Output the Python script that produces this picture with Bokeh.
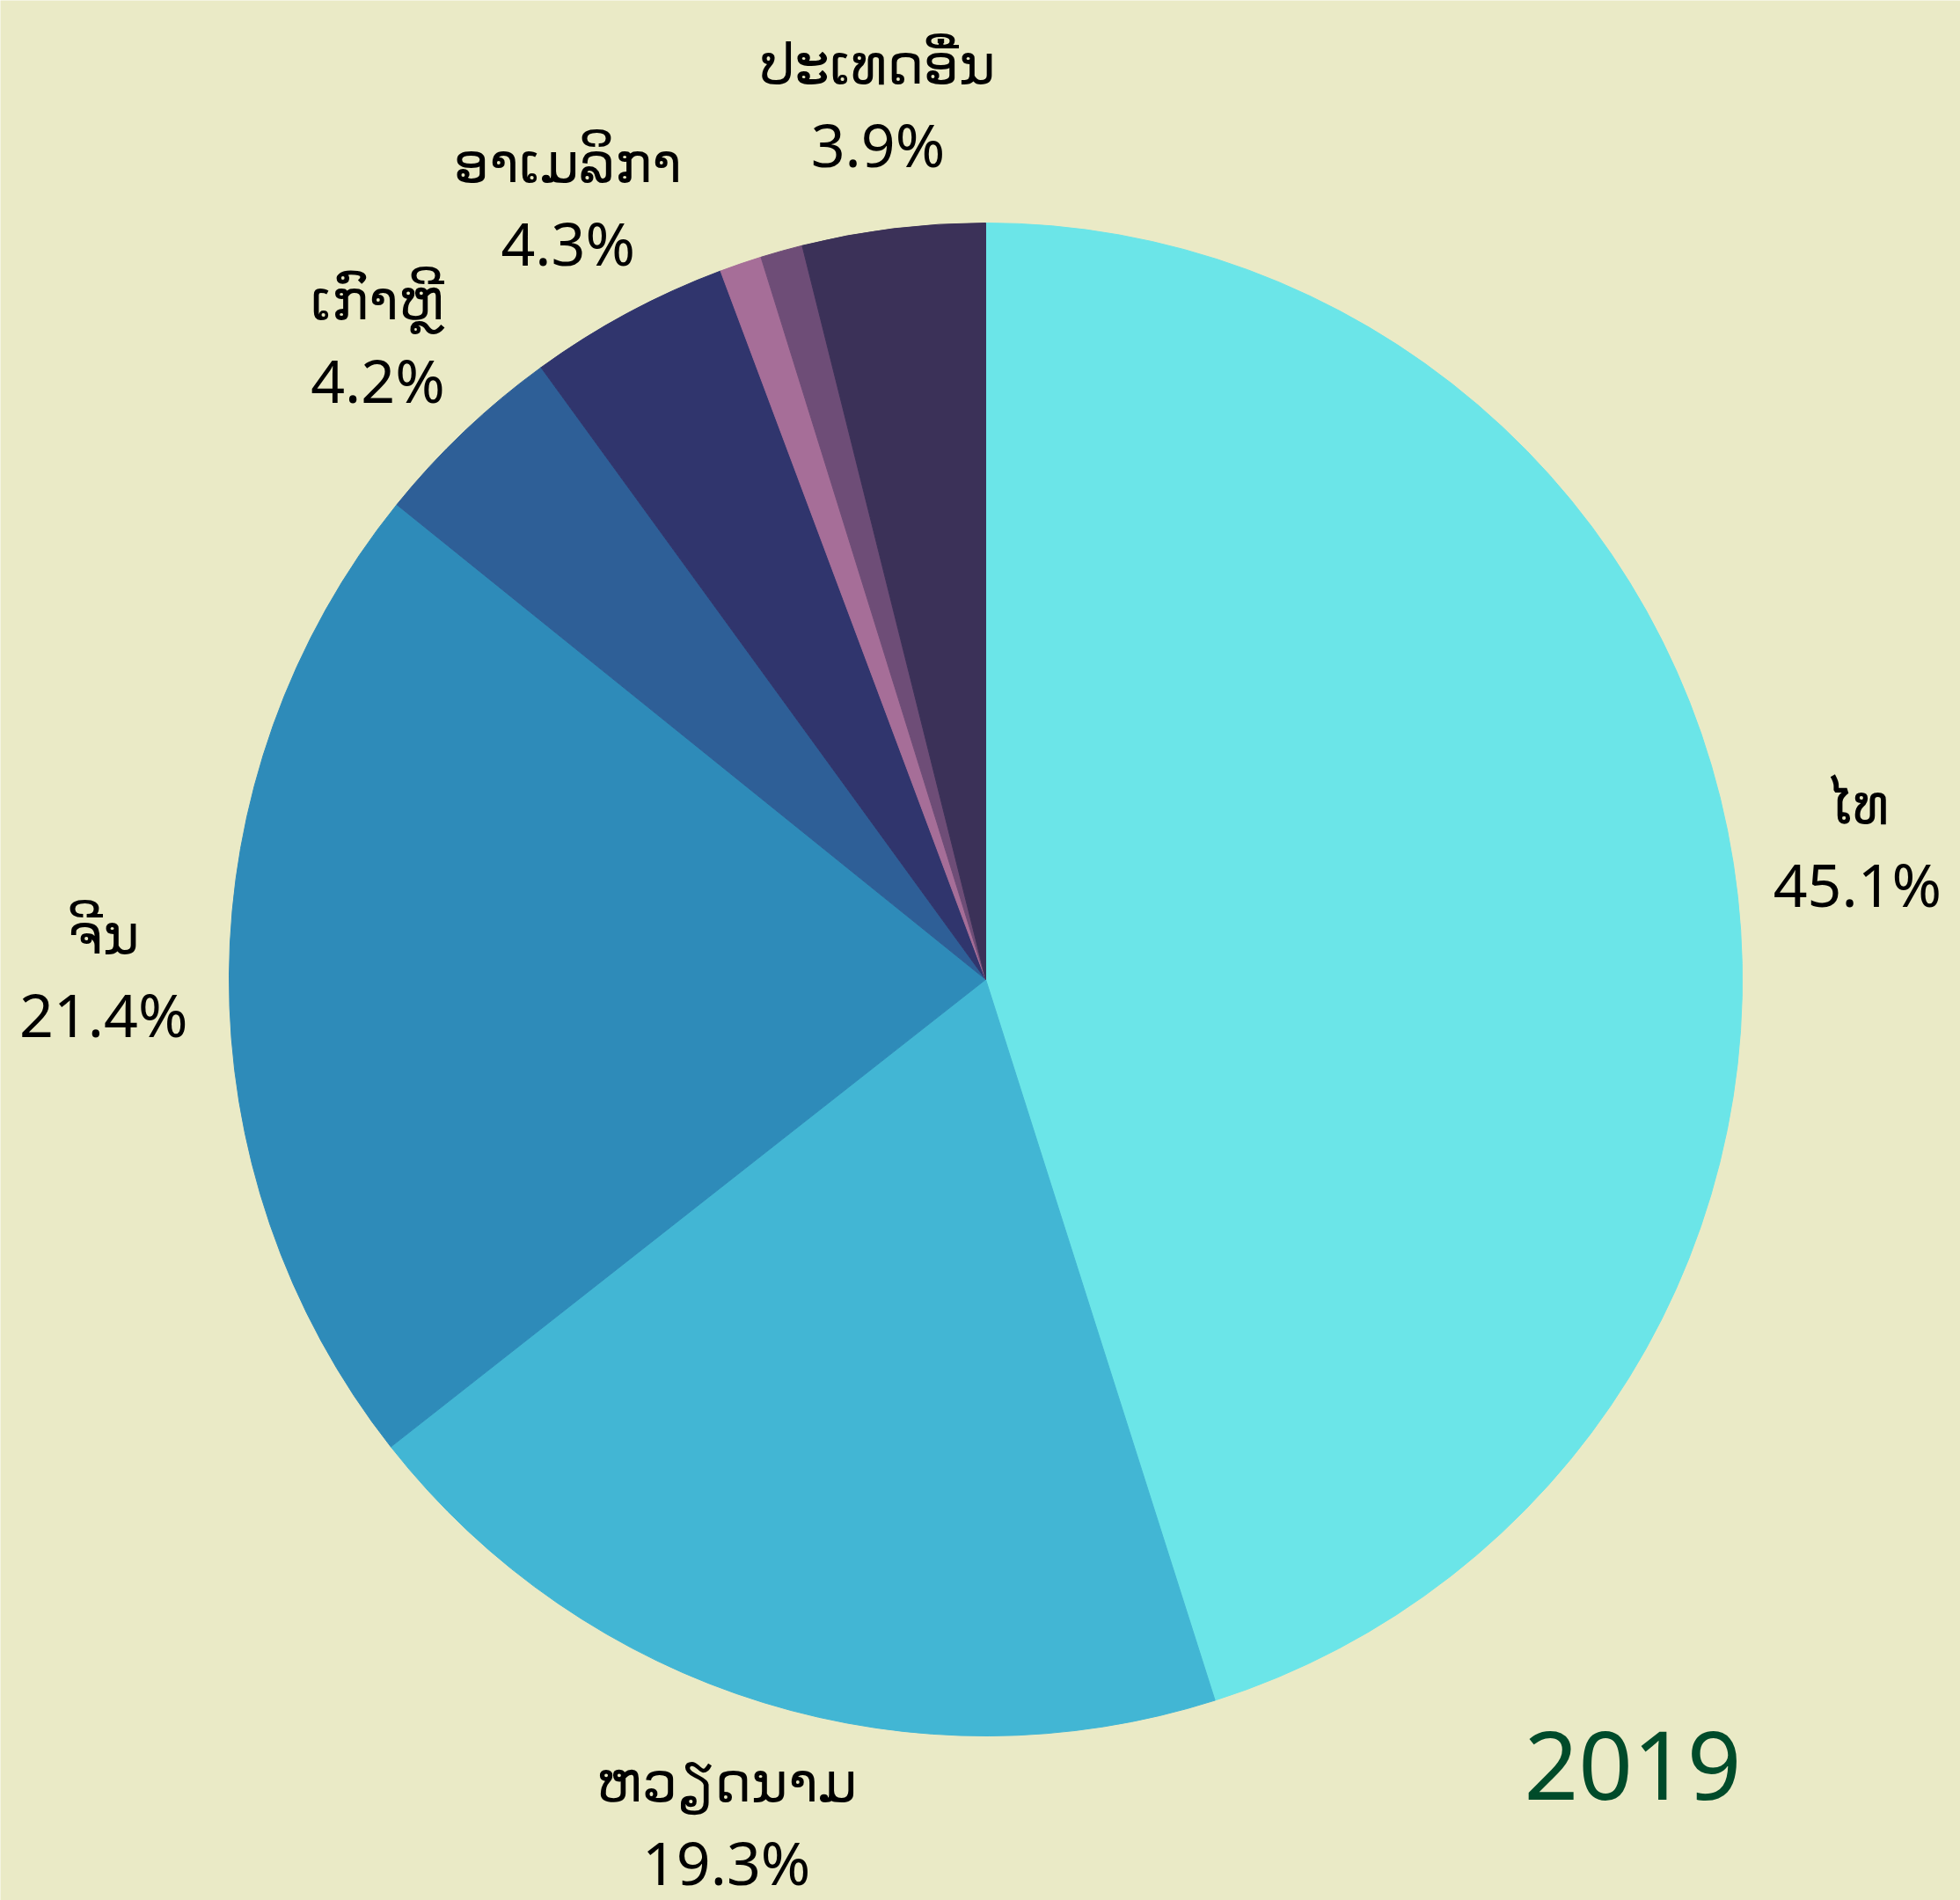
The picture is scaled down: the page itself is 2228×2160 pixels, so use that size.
import math
from bokeh.plotting import figure
from bokeh.models import ColumnDataSource
from bokeh.core.properties import value
from bokeh.embed import file_html
from bokeh.resources import INLINE

# ---- data ----
countries = ["ໄທ", "ຫວຽດນາມ", "ຈີນ", "ເກົາຫຼີ", "ອາເມລິກາ", "", "", "ປະເທດອື່ນ"]
shares = [45.1, 19.3, 21.4, 4.2, 4.3, 0.9, 0.9, 3.9]
colors = ["#6BE5E8", "#42B6D4", "#2E8BB9", "#2E5F97", "#30356D", "#A66E98", "#6E4D77", "#3B3158"]
year_label = "2019"

W, H = 2228, 2160
BG = "#EAEAC6"
cx, cy, r = 1120, 1047, 860
label_dist = 1.166

total = sum(shares)
starts, ends, lx, ly, names, pcts = [], [], [], [], [], []
cum = 0.0
for name, v in zip(countries, shares):
    a0 = math.pi / 2 - 2 * math.pi * cum / total
    cum += v
    a1 = math.pi / 2 - 2 * math.pi * cum / total
    starts.append(a1)
    ends.append(a0)
    mid = 2 * math.pi * (cum - v / 2) / total
    lx.append(cx + label_dist * r * math.sin(mid))
    ly.append(cy + label_dist * r * math.cos(mid))
    names.append(name)
    pcts.append(f"{v / total * 100:.1f}%" if name else "")

src = ColumnDataSource(dict(start=starts, end=ends, color=colors,
                            lx=lx, ly=ly, name=names, pct=pcts))

p = figure(width=W, height=H, x_range=(0, W), y_range=(0, H),
           output_backend="svg", toolbar_location=None, min_border=0)
p.axis.visible = False
p.grid.visible = False
p.outline_line_color = None
p.background_fill_color = BG
p.border_fill_color = BG

p.wedge(x=cx, y=cy, radius=r, start_angle="start", end_angle="end",
        direction="anticlock", fill_color="color", line_color="color",
        line_width=1, source=src)

font = value("Noto Sans")
p.text(x="lx", y="ly", text="name", source=src, text_align="center",
       text_baseline="alphabetic", y_offset=-48, text_font=font,
       text_font_size="63px", text_color="#000000")
p.text(x="lx", y="ly", text="pct", source=src, text_align="center",
       text_baseline="alphabetic", y_offset=45, text_font=font,
       text_font_size="68px", text_color="#000000")

p.text(x=[1732], y=[154], text=[year_label], text_align="left",
       text_baseline="alphabetic", text_font=font, text_font_size="108px",
       text_color="#004B2A")

open("out.html", "w").write(file_html(p, INLINE))
